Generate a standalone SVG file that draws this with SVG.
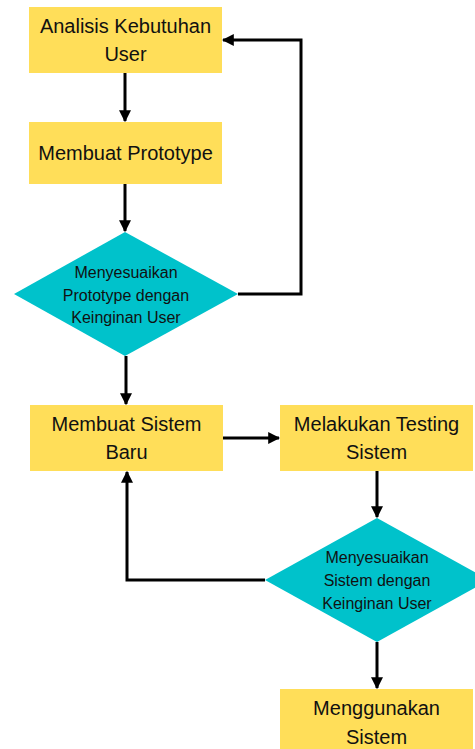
<svg xmlns="http://www.w3.org/2000/svg" width="475" height="749" viewBox="0 0 475 749">
<style>
.box{fill:#FFDE59}
.dia{fill:#00C2CB}
.t{font-family:"Liberation Sans",Arial,sans-serif;font-size:20px;fill:#111;text-anchor:middle;dominant-baseline:central}
.s{font-family:"Liberation Sans",Arial,sans-serif;font-size:16px;fill:#111;text-anchor:middle;dominant-baseline:central}
.c{fill:none;stroke:#000;stroke-width:3;stroke-linejoin:miter}
</style>
<defs>
<marker id="ah" viewBox="0 0 10 10" refX="9" refY="5" markerWidth="4" markerHeight="4" markerUnits="strokeWidth" orient="auto">
<path d="M0,0 L10,5 L0,10 z" fill="#000"/>
</marker>
</defs>
<rect width="475" height="749" fill="#fff"/>
<g id="n1"><rect class="box" x="29" y="7" width="193" height="66"/><text class="t" x="125.5" y="26">Analisis Kebutuhan</text><text class="t" x="125.5" y="54">User</text></g>
<g id="n2"><rect class="box" x="29" y="122" width="193" height="62"/><text class="t" x="125.5" y="153">Membuat Prototype</text></g>
<g id="n3"><polygon class="dia" points="125,232 238,294 125,356 14,294"/><text class="s" x="126" y="272">Menyesuaikan</text><text class="s" x="126" y="295">Prototype dengan</text><text class="s" x="126" y="317">Keinginan User</text></g>
<g id="n4"><rect class="box" x="30" y="405" width="193" height="66"/><text class="t" x="126.5" y="424">Membuat Sistem</text><text class="t" x="126.5" y="452">Baru</text></g>
<g id="n5"><rect class="box" x="280" y="405" width="193" height="66"/><text class="t" x="376.5" y="424">Melakukan Testing</text><text class="t" x="376.5" y="452">Sistem</text></g>
<g id="n6"><polygon class="dia" points="377,518 489,580 377,642 265,580"/><text class="s" x="377" y="557">Menyesuaikan</text><text class="s" x="377" y="580">Sistem dengan</text><text class="s" x="377" y="603">Keinginan User</text></g>
<g id="n7"><rect class="box" x="280" y="689" width="193" height="66"/><text class="t" x="376.5" y="708">Menggunakan</text><text class="t" x="376.5" y="737">Sistem</text></g>
<g id="connectors">
<path class="c" d="M125,73 V121" marker-end="url(#ah)"/>
<path class="c" d="M125,184 V231" marker-end="url(#ah)"/>
<path class="c" d="M238,294 H301 V40 H223" marker-end="url(#ah)"/>
<path class="c" d="M126,356 V404" marker-end="url(#ah)"/>
<path class="c" d="M223,438 H279" marker-end="url(#ah)"/>
<path class="c" d="M377,471 V517" marker-end="url(#ah)"/>
<path class="c" d="M265,580 H127 V472" marker-end="url(#ah)"/>
<path class="c" d="M377,642 V688" marker-end="url(#ah)"/>
</g>
</svg>
